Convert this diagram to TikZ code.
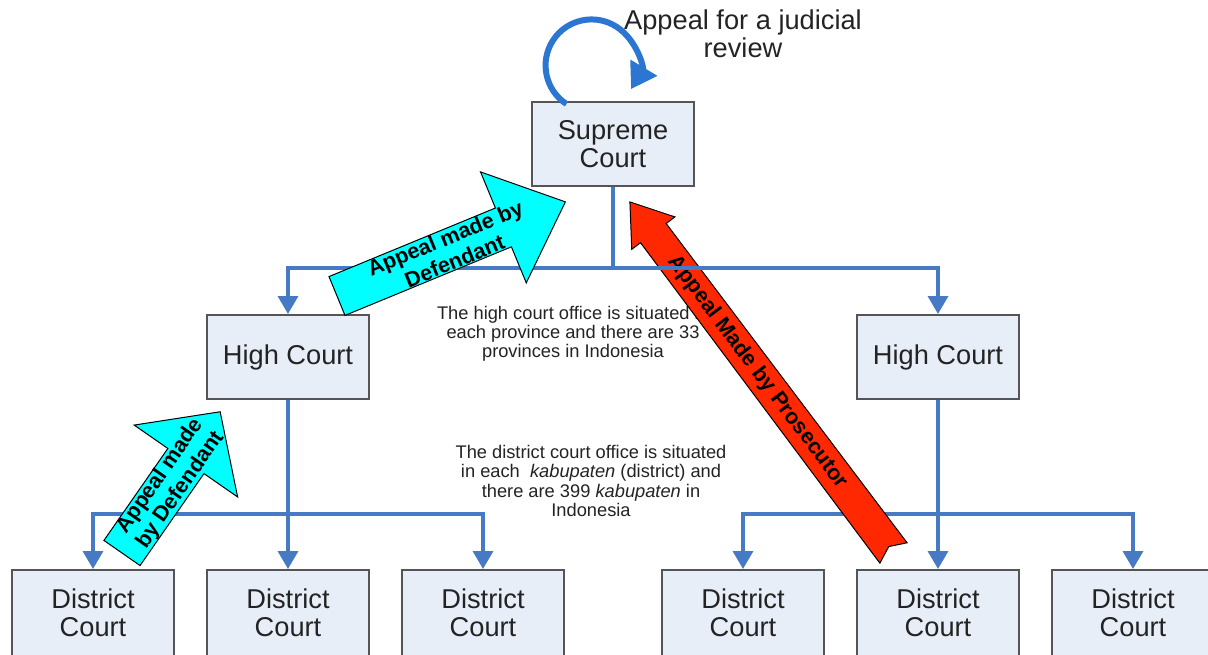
\documentclass[tikz,border=0pt]{standalone}
\usepackage{fontspec}
\setmainfont{Liberation Sans}
\usetikzlibrary{arrows.meta}

\definecolor{linkblue}{RGB}{70,122,196}
\definecolor{loopblue}{RGB}{43,118,210}
\definecolor{boxfill}{RGB}{232,238,247}
\definecolor{boxline}{RGB}{85,85,85}
\definecolor{txtgray}{RGB}{35,35,35}
\definecolor{appealred}{RGB}{255,40,0}
\definecolor{appealcyan}{RGB}{0,255,255}

\tikzset{
	court/.style={draw=boxline, line width=0.04cm, fill=boxfill, minimum width=3.26cm, minimum height=1.68cm,
		inner sep=0pt, align=center, text=txtgray, font=\fontsize{15.5}{16}\selectfont},
	note/.style={align=center, text=txtgray, inner sep=0pt, font=\fontsize{10.4}{10.9}\selectfont},
	link/.style={draw=linkblue, line width=0.07cm, -{Triangle[length=0.36cm,width=0.4cm]}},
	loopline/.style={draw=loopblue, line width=0.12cm, -{Triangle[length=0.5cm,width=0.6cm]}},
	cyanarrow/.style={fill=appealcyan, draw=black, line width=0.02cm},
	redarrow/.style={fill=appealred, draw=black, line width=0.02cm},
	arrowlbl/.style={align=center, inner sep=0pt, font=\bfseries\fontsize{12.3}{14}\selectfont},
	revlbl/.style={align=center, inner sep=0pt, text=txtgray, font=\fontsize{15.5}{16}\selectfont}
}

\begin{document}
\begin{tikzpicture}[x=0.02cm, y=-0.02cm]
	\useasboundingbox (0,0) rectangle (1208,655);
	\clip (0,0) rectangle (1208,655);

	% courts
	\node[court] (supreme) at (613,144) {Supreme\\Court};
	\node[court] (highL) at (288,357) {High Court};
	\node[court] (highR) at (938,357) {High Court};
	\foreach \n/\x in {1/93,2/288,3/483,4/743,5/938,6/1133}
		\node[court, minimum height=1.72cm] (dist\n) at (\x,613) {District\\Court};

	% notes
	\node[note] (hcnote) at (573,334) {The high court office is situated in\\each province and there are 33\\provinces in Indonesia};
	\node[note] (dcnote) at (591,481) {The district court office is situated\\in each \ \textit{kabupaten} (district) and\\there are 399 \textit{kabupaten} in\\Indonesia};

	% high court -> district courts
	\coordinate (jL) at (288,514);
	\coordinate (jR) at (938,514);
	\draw[link] (highL) -- (dist2);
	\draw[link] (jL) -| (dist1);
	\draw[link] (jL) -| (dist3);
	\draw[link] (highR) -- (dist5);
	\draw[link] (jR) -| (dist4);
	\draw[link] (jR) -| (dist6);

	% appeal by prosecutor
	\begin{scope}[shift={(893.5,553)}, rotate=126.9]
		\filldraw[redarrow] (0,-17) -- (400,-16) -- (400,-27) -- (439,0) -- (400,27) -- (400,16) -- (0,17) -- (8,0) -- cycle;
		\node[arrowlbl, rotate=-53.1] (prolbl) at (226,0) {Appeal Made by Prosecutor};
	\end{scope}

	% supreme court -> high courts
	\coordinate (jS) at (613,268);
	\draw[link, -] (supreme) -- (jS);
	\draw[link] (jS) -| (highL);
	\draw[link] (jS) -| (highR);

	% appeals by defendant
	\begin{scope}[shift={(337,296)}, rotate=22.4]
		\filldraw[cyanarrow] (0,-21) -- (180,-21) -- (180,-60) -- (247,0) -- (180,60) -- (180,21) -- (0,21) -- cycle;
		\node[arrowlbl, rotate=22.4] (deflbl1) at (122,0) {Appeal made by\\Defendant};
	\end{scope}
	\begin{scope}[shift={(122,553)}, rotate=55.2]
		\filldraw[cyanarrow] (0,-22) -- (112,-22) -- (112,-63) -- (172,0) -- (112,63) -- (112,22) -- (0,22) -- cycle;
		\node[arrowlbl, rotate=55.2] (deflbl2) at (85,0) {Appeal made\\by Defendant};
	\end{scope}

	% judicial review
	\draw[loopline] (supreme.north west) ++(36,3) arc[start angle=123, end angle=391, radius=46];
	\node[revlbl] (revlbl) at (743,34) {Appeal for a judicial\\review};
\end{tikzpicture}
\end{document}
